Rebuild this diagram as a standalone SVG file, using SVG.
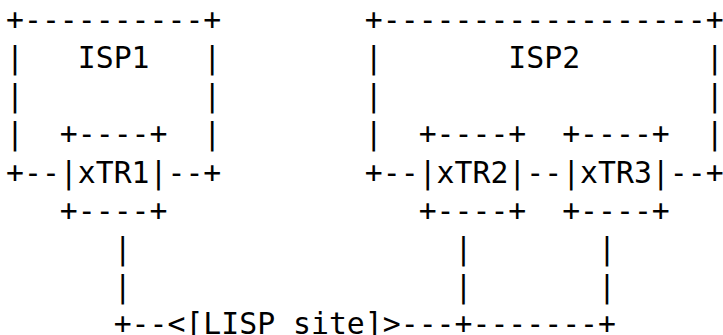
<svg xmlns="http://www.w3.org/2000/svg" width="723" height="335" viewBox="0 0 723 335" xml:space="preserve">
<style>
text { font-family: "DejaVu Sans Mono", "Liberation Mono", monospace; font-size: 29.8px; fill: #000; white-space: pre; }
</style>
<rect x="0" y="0" width="723" height="335" fill="#fff"/>
<g id="isp1">
<text x="6" y="29.6">+----------+</text>
<text x="6" y="68">|   ISP1   |</text>
<text x="6" y="106.2">|          |</text>
<text x="6" y="144.4">|</text>
<text x="203.35" y="144.4">|</text>
<text x="6" y="182.6">+--</text>
<text x="167.47" y="182.6">--+</text>
</g>
<g id="xtr1">
<text x="59.82" y="144.4">+----+</text>
<text x="59.82" y="182.6">|xTR1|</text>
<text x="59.82" y="220.8">+----+</text>
</g>
<g id="isp2">
<text x="364.82" y="29.6">+------------------+</text>
<text x="364.82" y="68">|       ISP2       |</text>
<text x="364.82" y="106.2">|                  |</text>
<text x="364.82" y="144.4">|</text>
<text x="705.70" y="144.4">|</text>
<text x="364.82" y="182.6">+--</text>
<text x="526.29" y="182.6">--</text>
<text x="669.82" y="182.6">--+</text>
</g>
<g id="xtr2">
<text x="418.64" y="144.4">+----+</text>
<text x="418.64" y="182.6">|xTR2|</text>
<text x="418.64" y="220.8">+----+</text>
</g>
<g id="xtr3">
<text x="562.17" y="144.4">+----+</text>
<text x="562.17" y="182.6">|xTR3|</text>
<text x="562.17" y="220.8">+----+</text>
</g>
<g id="lisp-site">
<text x="167.47" y="333.8">&lt;[LISP site]&gt;</text>
</g>
<g id="connectors">
<text x="113.65" y="259">|</text>
<text x="113.65" y="296.8">|</text>
<text x="454.53" y="259">|</text>
<text x="454.53" y="296.8">|</text>
<text x="598.05" y="259">|</text>
<text x="598.05" y="296.8">|</text>
<text x="113.65" y="333.8">+--</text>
<text x="400.70" y="333.8">---+-------+</text>
</g>
</svg>
